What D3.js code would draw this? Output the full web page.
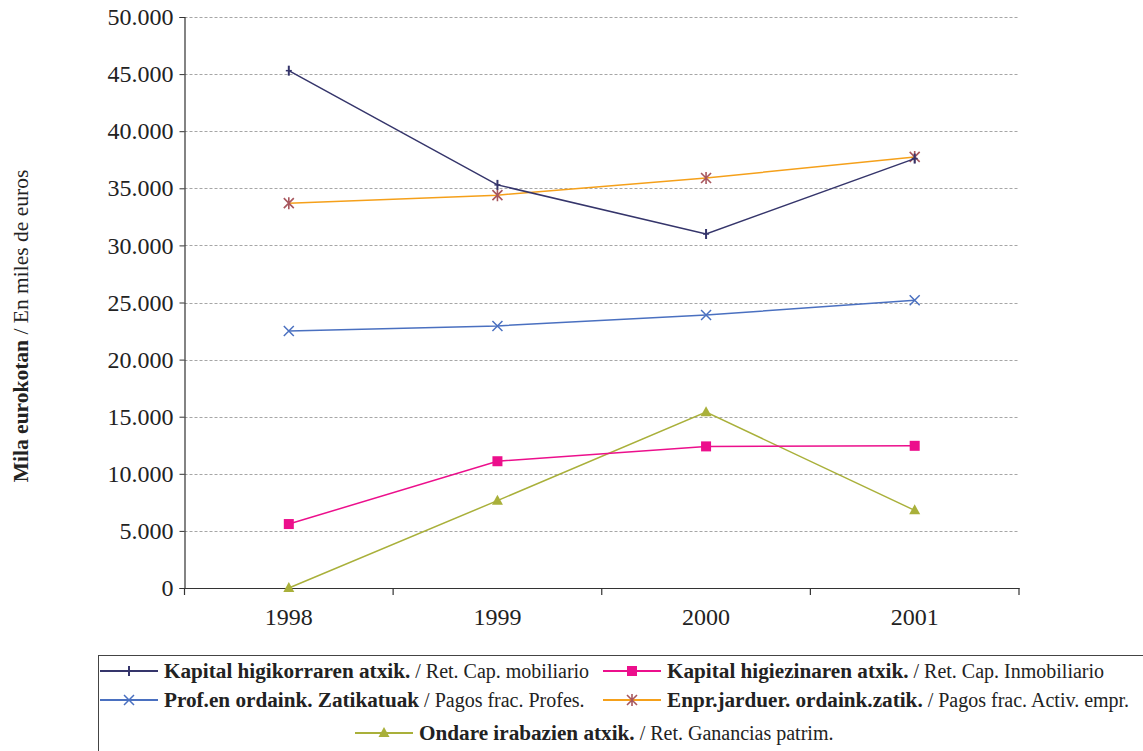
<!DOCTYPE html>
<html><head><meta charset="utf-8">
<script src="https://cdn.jsdelivr.net/npm/d3@7"></script>
<style>body{margin:0;background:#fff;} svg{display:block;}</style>
</head><body>
<svg id="c" width="1143" height="751"></svg>
<script>
const years = ["1998","1999","2000","2001"];
const yTicks = [0,5000,10000,15000,20000,25000,30000,35000,40000,45000,50000];
const capMobiliario = [45300,35300,31000,37600];
const capInmobiliario = [5600,11100,12400,12450];
const pagosProfes = [22500,22950,23900,25200];
const pagosActiv = [33700,34400,35900,37750];
const gananciasPatrim = [0,7650,15400,6800];

const seriesNames = [
 {bold:"Kapital higikorraren atxik.", norm:" / Ret. Cap. mobiliario"},
 {bold:"Kapital higiezinaren atxik.", norm:" / Ret. Cap. Inmobiliario"},
 {bold:"Prof.en ordaink. Zatikatuak", norm:" / Pagos frac. Profes."},
 {bold:"Enpr.jarduer. ordaink.zatik.", norm:" / Pagos frac. Activ. empr."},
 {bold:"Ondare irabazien atxik.", norm:" / Ret. Ganancias patrim."}
];
const seriesValues = [capMobiliario, capInmobiliario, pagosProfes, pagosActiv, gananciasPatrim];
const lineColors = ["#35356b","#ec0f8c","#4a70c0","#f5a01a","#a9b03a"];
const markerColors = ["#35356b","#ec0f8c","#4a70c0","#a8575e","#a9b03a"];
const markerTypes = ["plus","square","x","star","triangle"];

const svg = d3.select("#c");
const L=184.5, R=1019, T=17, B=588;
const x = d3.scaleBand().domain(years).range([L,R]);
const y = d3.scaleLinear().domain([0,50000]).range([B,T]);
const fmt = v => d3.format(",")(v).replace(/,/g,".");
const serif = "'Liberation Serif','Times New Roman',serif";

// gridlines
svg.append("g").selectAll("line").data(yTicks.filter(d=>d>0)).join("line")
 .attr("x1",L).attr("x2",R).attr("y1",d=>Math.round(y(d))+0.5).attr("y2",d=>Math.round(y(d))+0.5)
 .attr("stroke","#a6a6a6").attr("stroke-width",1).attr("stroke-dasharray","3,2");

// y axis
const ya = svg.append("g").attr("transform",`translate(${L},0)`)
 .call(d3.axisLeft(y).tickValues(yTicks).tickFormat(fmt).tickSize(5).tickPadding(6));
ya.attr("font-family",serif);
ya.select(".domain").attr("stroke","#333").attr("stroke-width",1.2);
ya.selectAll(".tick line").attr("stroke","#333");
ya.selectAll("text").attr("font-family",serif).attr("font-size",24).attr("fill","#222");

// x axis
const xa = svg.append("g").attr("transform",`translate(0,${B})`)
 .call(d3.axisBottom(x).tickSize(0).tickPadding(20));
xa.attr("font-family",serif);
xa.select(".domain").attr("stroke","#333").attr("stroke-width",1.2);
xa.selectAll("text").attr("font-family",serif).attr("font-size",24).attr("fill","#222");
// boundary ticks
const bounds = years.map(d=>x(d)).concat([R]);
xa.append("g").selectAll("line").data(bounds).join("line")
 .attr("x1",d=>d).attr("x2",d=>d).attr("y1",0).attr("y2",7).attr("stroke","#333").attr("stroke-width",1.2);

// y title
const yt = svg.append("text").attr("transform","translate(28,326) rotate(-90)")
 .attr("text-anchor","middle").attr("font-family",serif).attr("font-size",21.5).attr("fill","#222");
yt.append("tspan").attr("font-weight","bold").text("Mila eurokotan");
yt.append("tspan").text(" / En miles de euros");

function drawMarker(g, type, color, cx, cy){
  const s=5;
  if(type==="plus"){
    g.append("line").attr("x1",cx).attr("x2",cx).attr("y1",cy-5).attr("y2",cy+5).attr("stroke",color).attr("stroke-width",2);
    g.append("line").attr("x1",cx-3).attr("x2",cx+3).attr("y1",cy).attr("y2",cy).attr("stroke",color).attr("stroke-width",1.5);
  } else if(type==="square"){
    g.append("rect").attr("x",cx-5).attr("y",cy-5).attr("width",10).attr("height",10).attr("fill",color);
  } else if(type==="x"){
    g.append("path").attr("d",`M${cx-s},${cy-s}L${cx+s},${cy+s}M${cx-s},${cy+s}L${cx+s},${cy-s}`).attr("stroke",color).attr("stroke-width",1.5);
  } else if(type==="star"){
    g.append("path").attr("d",`M${cx-s},${cy-s}L${cx+s},${cy+s}M${cx-s},${cy+s}L${cx+s},${cy-s}M${cx},${cy-s-1}L${cx},${cy+s+1}`).attr("stroke",color).attr("stroke-width",1.6);
  } else if(type==="triangle"){
    g.append("path").attr("d",`M${cx},${cy-6}L${cx+5.5},${cy+4}L${cx-5.5},${cy+4}Z`).attr("fill",color);
  }
}

const line = d3.line().x((d,i)=>x(years[i])+x.bandwidth()/2).y(d=>y(d));
const drawOrder = [4,1,2,3,0];
drawOrder.forEach(si=>{
  const g = svg.append("g");
  g.append("path").datum(seriesValues[si]).attr("d",line).attr("fill","none")
   .attr("stroke",lineColors[si]).attr("stroke-width",1.5);
  seriesValues[si].forEach((v,i)=>drawMarker(g, markerTypes[si], markerColors[si], x(years[i])+x.bandwidth()/2, y(v)));
});

// legend
svg.append("rect").attr("x",98.5).attr("y",655.5).attr("width",1100).attr("height",120)
 .attr("fill","none").attr("stroke","#444").attr("stroke-width",1);
const legPos = [[100,671],[603,671],[100,700],[603,700],[355,733]];
legPos.forEach((p,si)=>{
  const g = svg.append("g");
  const [lx,ly]=p;
  g.append("line").attr("x1",lx).attr("x2",lx+58).attr("y1",ly).attr("y2",ly).attr("stroke",lineColors[si]).attr("stroke-width",2);
  drawMarker(g, markerTypes[si], markerColors[si], lx+29, ly);
  const t = g.append("text").attr("x",lx+64).attr("y",ly+6.5).attr("font-family",serif).attr("font-size",20).attr("fill","#222");
  t.append("tspan").attr("font-weight","bold").attr("font-size",21.2).text(seriesNames[si].bold);
  t.append("tspan").text(seriesNames[si].norm);
});
</script>
</body></html>
